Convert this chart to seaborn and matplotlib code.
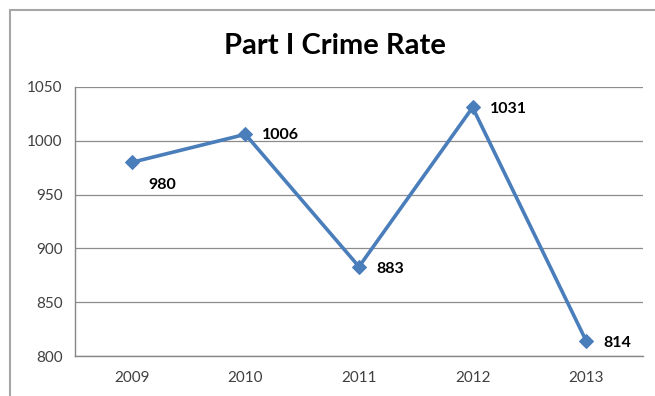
import matplotlib
matplotlib.use("Agg")
import matplotlib.pyplot as plt
import seaborn as sns
import pandas as pd
from matplotlib.patches import Rectangle

years = ["2009", "2010", "2011", "2012", "2013"]
rates = [980, 1006, 883, 1031, 814]
yticks = [800, 850, 900, 950, 1000, 1050]
title = "Part I Crime Rate"

df = pd.DataFrame({"pos": range(len(years)), "rate": rates})

sns.set_theme(style="white")
plt.rcParams["font.family"] = ["Lato", "DejaVu Sans"]

W, H = 655, 396
fig = plt.figure(figsize=(W / 100, H / 100), dpi=100)
ax = fig.add_axes([75 / W, 1 - 356 / H, (643 - 75) / W, (356 - 87) / H])

# outer chart frame
fig.patches.append(Rectangle((10 / W, -0.1), 1.2, 1 - 10 / H + 0.1,
                             transform=fig.transFigure, fill=False,
                             edgecolor="#A6A6A6", linewidth=1.5))

blue = "#4A7EBB"
sns.lineplot(data=df, x="pos", y="rate", ax=ax, color=blue, linewidth=2.6,
             marker="D", markersize=7.5, markeredgecolor=blue, zorder=3)

ax.set_xlim(-0.5, len(years) - 0.5)
ax.set_ylim(yticks[0], yticks[-1])
ax.set_yticks(yticks)
ax.set_yticklabels([str(v) for v in yticks])
ax.set_xticks(range(len(years)))
ax.set_xticklabels(years)
ax.set_xticks([i - 0.5 for i in range(len(years) + 1)], minor=True)
ax.tick_params(axis="x", which="major", length=0, pad=11, labelsize=11, labelcolor="#404040")
ax.tick_params(axis="x", which="minor", length=5, width=1, color="#868686", direction="out")
ax.tick_params(axis="y", length=5, width=1, color="#868686", direction="out", pad=4,
               labelsize=11, labelcolor="#404040")
ax.set_xlabel("")
ax.set_ylabel("")
ax.grid(axis="y", color="#8C8C8C", linewidth=0.9)
ax.set_axisbelow(True)
for s in ["top", "right"]:
    ax.spines[s].set_visible(False)
for s in ["left", "bottom"]:
    ax.spines[s].set_color("#868686")
    ax.spines[s].set_linewidth(1)

offsets = [(17, -23), (17, -1), (17, -2), (17, -2), (17, -2)]
for i, (v, off) in enumerate(zip(rates, offsets)):
    ax.annotate(str(v), (i, v), xytext=off, textcoords="offset pixels",
                ha="left", va="center", fontsize=11.5, fontweight="bold", color="black")

fig.text(335 / W, 1 - 46 / H, title, ha="center", va="center",
         fontsize=21, fontweight="bold", color="black")

fig.savefig("out.png", dpi=100)
